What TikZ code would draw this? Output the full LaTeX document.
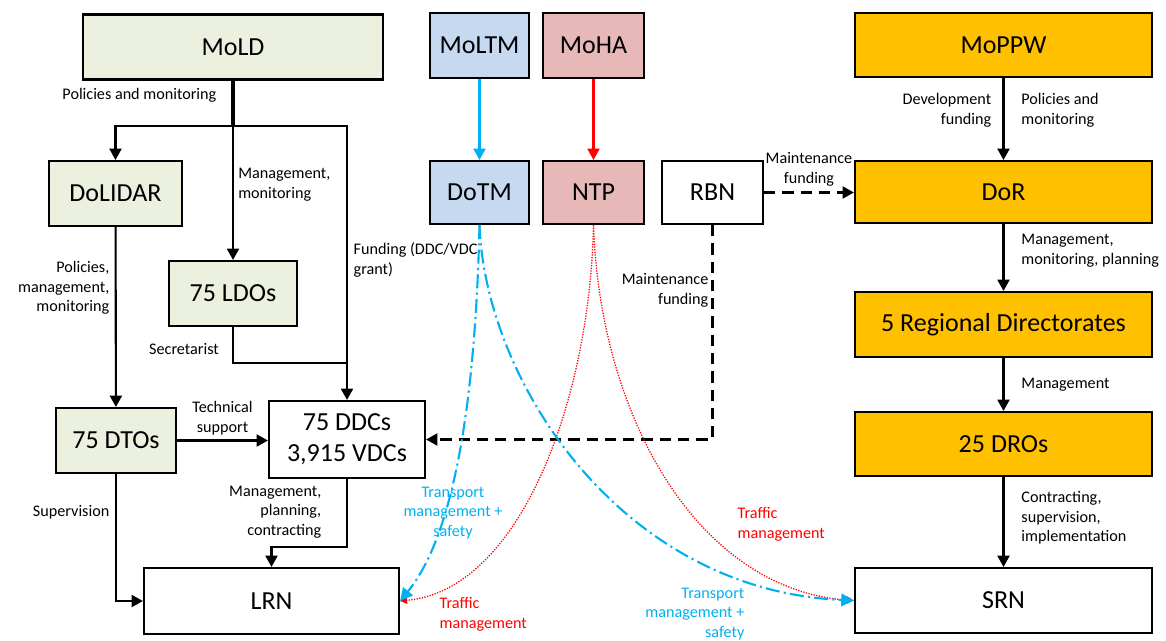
\documentclass[tikz,border=0pt]{standalone}
\usepackage{fontspec}
\setmainfont{Carlito}
\usetikzlibrary{arrows.meta}
\definecolor{lgreen}{HTML}{EBF1DE}
\definecolor{lblue}{HTML}{C6D9F1}
\definecolor{lred}{HTML}{E6B9B8}
\definecolor{orng}{HTML}{FFC000}
\definecolor{cyanline}{HTML}{00B0F0}
\definecolor{redline}{HTML}{FF0000}

\begin{document}
\begin{tikzpicture}[x=0.025cm,y=-0.025cm,
    box/.style={draw,line width=1.5pt,minimum height=1.625cm,inner sep=0pt,align=center,font=\fontsize{18.5}{22}\selectfont},
    arr/.style={line width=1.5pt,-{Triangle[length=8pt,width=8.5pt]}},
    lbl/.style={font=\fontsize{11.5}{14}\selectfont,inner sep=1pt},
    bluecurve/.style={cyanline,line width=1.5pt,dash pattern=on 10pt off 3pt on 1.5pt off 3pt,-{Triangle[length=9pt,width=9pt]}},
    redcurve/.style={redline,line width=0.9pt,densely dotted,-{Triangle[length=5pt,width=5pt]}}]
    \useasboundingbox (0,0) rectangle (1166,640);
    % local roads
    \node[box,fill=lgreen,minimum width=7.5cm] (MoLD) at (233,47) {MoLD};
    \node[box,fill=lgreen,minimum width=3.325cm] (DoLIDAR) at (115.5,193.5) {DoLIDAR};
    \node[box,fill=lgreen,minimum width=3.2cm] (LDOs) at (233,293.5) {75 LDOs};
    \node[box,fill=lgreen,minimum width=3cm] (DTOs) at (116,440.5) {75 DTOs};
    \node[box,minimum width=3.9cm,minimum height=1.925cm] (DDC) at (347,439.5) {75 DDCs\\3,915 VDCs};
    \node[box,minimum width=6.375cm,minimum height=1.65cm] (LRN) at (271.5,601) {LRN};
    % transport and home affairs
    \node[box,fill=lblue,minimum width=2.475cm] (MoLTM) at (479.5,45.5) {MoLTM};
    \node[box,fill=lred,minimum width=2.525cm] (MoHA) at (593.5,45.5) {MoHA};
    \node[box,fill=lblue,minimum width=2.475cm,minimum height=1.575cm] (DoTM) at (479.5,192.5) {DoTM};
    \node[box,fill=lred,minimum width=2.525cm,minimum height=1.575cm] (NTP) at (593.5,192.5) {NTP};
    \node[box,minimum width=2.525cm,minimum height=1.575cm] (RBN) at (712.5,192.5) {RBN};
    % strategic roads
    \node[box,fill=orng,minimum width=7.425cm,minimum height=1.6cm] (MoPPW) at (1003.5,45) {MoPPW};
    \node[box,fill=orng,minimum width=7.425cm,minimum height=1.55cm] (DoR) at (1003.5,192) {DoR};
    \node[box,fill=orng,minimum width=7.425cm] (RD) at (1003.5,324.5) {5 Regional Directorates};
    \node[box,fill=orng,minimum width=7.425cm,minimum height=1.6cm] (DROs) at (1003.5,444) {25 DROs};
    \node[box,minimum width=7.425cm] (SRN) at (1003.5,600.5) {SRN};

    \coordinate (split) at (233,126);
    \coordinate (join) at (347,363);
    \draw[line width=2.2pt] (MoLD.south) -- (split);
    \node[lbl,anchor=east] at (218,95) {Policies and monitoring};
    \draw[arr] (split) -| (DoLIDAR.north);
    \draw[arr] (split) -- node[lbl,right=2pt,align=left,pos=0.44] {Management,\\monitoring} (LDOs.north);
    \draw[arr] (split) -| node[lbl,right=3pt,align=left,pos=0.745] {Funding (DDC/VDC\\grant)} (DDC.north);
    \draw[line width=1.5pt] (LDOs.south) |- (join);
    \node[lbl] at (184,349) {Secretarist};
    \draw[arr] (DoLIDAR) -- (DTOs);
    \node[lbl,anchor=east,align=right] at (111,288) {Policies,\\management,\\monitoring};
    \draw[arr] (DTOs.east) -- node[lbl,above=2pt,align=center] {Technical\\support} (DTOs.east -| DDC.west);
    \draw[arr] (DTOs.south) |- (LRN.west);
    \node[lbl,anchor=east] at (111,512) {Supervision};
    \draw[arr] (DDC.south) -- (DDC.south |- 0,547) -| (LRN.north);
    \node[lbl,anchor=east,align=right] at (323,512) {Management,\\planning,\\contracting};

    \draw[arr,cyanline] (MoLTM) -- (DoTM);
    \draw[arr,redline] (MoHA) -- (NTP);
    \draw[arr,dash pattern=on 8pt off 5pt] (RBN.east) -- node[lbl,above=3pt,align=center] {Maintenance\\funding} (RBN.east -| DoR.west);
    \draw[arr,dash pattern=on 8pt off 5pt] (RBN.south) |- (DDC.east);
    \node[lbl,anchor=east,align=right] at (710,290) {Maintenance\\funding};

    \draw[arr] (MoPPW) -- node[lbl,left=7pt,align=right,yshift=6pt] {Development\\funding} node[lbl,right=11pt,align=left,yshift=6pt] {Policies and\\monitoring} (DoR);
    \draw[arr] (DoR) -- node[lbl,right=11pt,align=left,yshift=5pt] {Management,\\monitoring, planning} (RD);
    \draw[arr] (RD) -- node[lbl,right=11pt] {Management} (DROs);
    \draw[arr] (DROs) -- node[lbl,right=11pt,align=left,yshift=3pt] {Contracting,\\supervision,\\implementation} (SRN);

    % curved links
    \draw[redcurve] (NTP.south) .. controls (590,400) and (520,590) .. (LRN.east);
    \draw[redcurve] (NTP.south) .. controls (600,420) and (700,590) .. (SRN.west);
    \draw[bluecurve] (DoTM.south) .. controls (475,420) and (450,540) .. (LRN.east);
    \draw[bluecurve] (DoTM.south) .. controls (485,380) and (620,590) .. (SRN.west);
    \node[lbl,cyanline,align=center] at (453,513) {Transport\\management +\\safety};
    \node[lbl,cyanline,anchor=east,align=right] at (746,614) {Transport\\management +\\safety};
    \node[lbl,redline,anchor=west,align=left] at (438,614) {Traffic\\management};
    \node[lbl,redline,anchor=west,align=left] at (736,524) {Traffic\\management};
\end{tikzpicture}
\end{document}
